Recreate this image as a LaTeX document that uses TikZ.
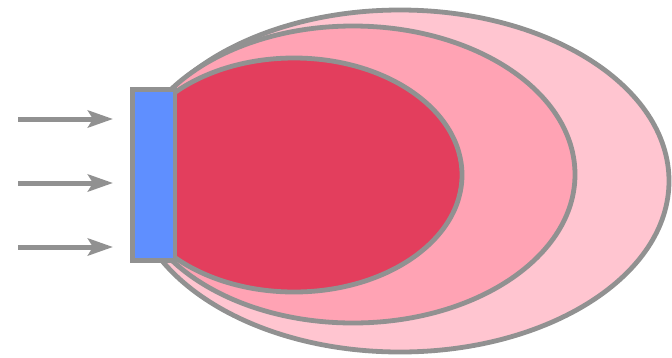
\documentclass[tikz,border=0pt]{standalone}
\usetikzlibrary{arrows.meta}
\definecolor{edge}{HTML}{919191}
\definecolor{outerpink}{HTML}{FFC5D0}
\definecolor{midpink}{HTML}{FFA3B4}
\definecolor{corered}{HTML}{E33E5D}
\definecolor{plateblue}{HTML}{5F8FFF}
\begin{document}
\begin{tikzpicture}[x=1pt,y=-1pt,
  zone/.style={draw=edge,line width=4.8pt},
  plate/.style={draw=edge,line width=4.8pt,fill=plateblue,inner sep=0pt,outer sep=0pt,minimum width=42.5pt,minimum height=171pt},
  flow/.style={draw=edge,line width=5pt,-{Stealth[length=25pt,width=17pt,inset=5pt]}}]
\useasboundingbox (0,0) rectangle (672,357);
\begin{scope}
  \clip (160,0) rectangle (672,357);
  \draw[zone,fill=outerpink] (400,181) ellipse [x radius=269, y radius=171];
  \draw[zone,fill=midpink] (353,174.5) ellipse [x radius=222, y radius=148.5];
  \draw[zone,fill=corered] (294,175) ellipse [x radius=168, y radius=117];
\end{scope}
\node[plate] (plate) at (153.75,175) {};
\coordinate (s1) at (18,119);  \coordinate (e1) at (113,119);
\coordinate (s2) at (18,183);  \coordinate (e2) at (113,183);
\coordinate (s3) at (18,247);  \coordinate (e3) at (113,247);
\draw[flow] (s1) -- (e1);
\draw[flow] (s2) -- (e2);
\draw[flow] (s3) -- (e3);
\end{tikzpicture}
\end{document}
